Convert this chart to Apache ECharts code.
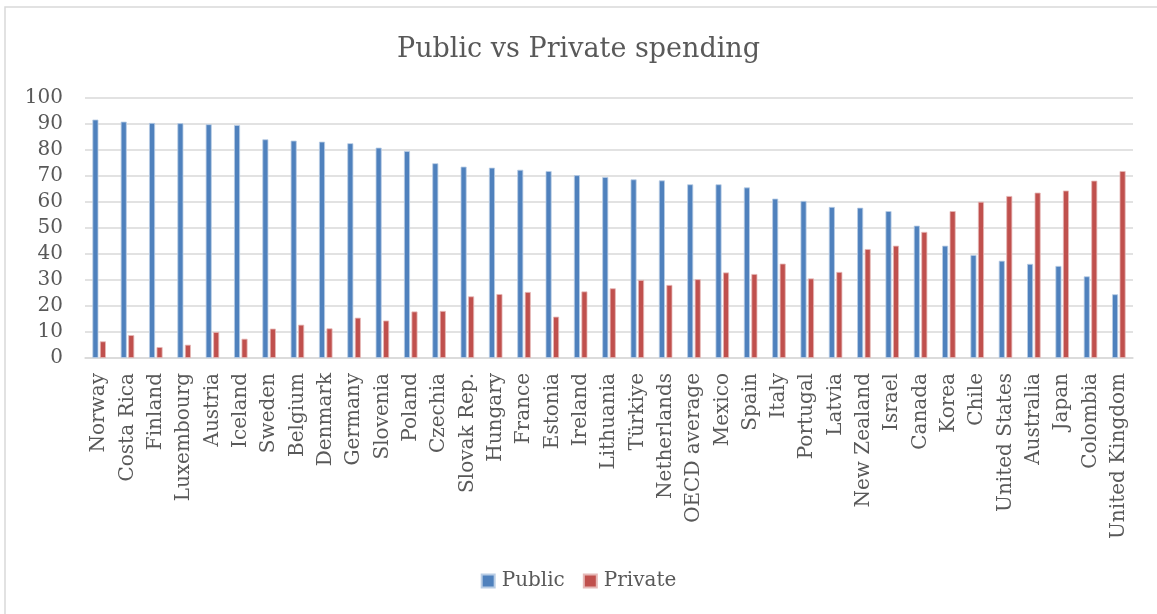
<!DOCTYPE html>
<html>
<head>
<meta charset="utf-8">
<script src="https://cdn.jsdelivr.net/npm/echarts@6/dist/echarts.min.js"></script>
<style>html,body{margin:0;padding:0;background:#fff;}#chart{width:1157px;height:614px;}</style>
</head>
<body>
<div id="chart"></div>
<script>
const categories = ["Norway","Costa Rica","Finland","Luxembourg","Austria","Iceland","Sweden","Belgium","Denmark","Germany","Slovenia","Poland","Czechia","Slovak Rep.","Hungary","France","Estonia","Ireland","Lithuania","Türkiye","Netherlands","OECD average","Mexico","Spain","Italy","Portugal","Latvia","New Zealand","Israel","Canada","Korea","Chile","United States","Australia","Japan","Colombia","United Kingdom"];
const publicValues = [91.7,90.9,90.4,90.3,89.9,89.6,84.1,83.6,83.2,82.6,80.9,79.6,74.9,73.6,73.2,72.4,71.9,70.3,69.6,68.7,68.3,66.8,66.8,65.6,61.3,60.4,58.1,57.8,56.5,50.9,43.2,39.6,37.4,36.2,35.4,31.4,24.5];
const privateValues = [6.4,8.8,4.2,5.1,10.0,7.4,11.3,12.8,11.4,15.5,14.4,17.9,18.1,23.7,24.6,25.4,15.9,25.6,26.8,30.0,28.1,30.3,32.9,32.3,36.3,30.6,33.1,41.9,43.2,48.5,56.5,60.1,62.3,63.6,64.4,68.2,71.9];
const seriesNames = ["Public","Private"];

const font = "DejaVu Serif";
const chart = echarts.init(document.getElementById('chart'), null, {renderer:'canvas'});
chart.setOption({
  backgroundColor:'#fff',
  animation:false,
  title:{text:'Public vs Private spending',left:'center',top:31,
    textStyle:{fontFamily:font,fontSize:27,fontWeight:'normal',color:'#595959'}},
  legend:{data:seriesNames,bottom:18,left:'center',itemWidth:13,itemHeight:13,itemGap:18,
    icon:'rect',textStyle:{fontFamily:font,fontSize:20,color:'#595959',padding:[0,0,0,2]}},
  graphic:[{type:'rect',shape:{x:5,y:7,width:1160,height:620},
    style:{fill:'none',stroke:'#d9d9d9',lineWidth:1.5},silent:true}],
  grid:{left:85,right:24,top:98,bottom:256,containLabel:false},
  xAxis:{type:'category',data:categories,
    axisLine:{lineStyle:{color:'#d9d9d9',width:1.5}},axisTick:{show:false},
    axisLabel:{rotate:90,interval:0,margin:15,fontFamily:font,fontSize:20,color:'#595959'}},
  yAxis:{type:'value',min:0,max:100,interval:10,
    axisLine:{show:false},axisTick:{show:false},
    splitLine:{lineStyle:{color:'#d9d9d9',width:1.5}},
    axisLabel:{margin:22,fontFamily:font,fontSize:20,color:'#595959'}},
  series:[
    {name:seriesNames[0],type:'bar',data:publicValues,barWidth:6,barGap:'25%',
      itemStyle:{color:'#4F81BD',borderColor:'#b9cde5',borderWidth:0.8}},
    {name:seriesNames[1],type:'bar',data:privateValues,barWidth:6,
      itemStyle:{color:'#C0504D',borderColor:'#e6b9b8',borderWidth:0.8}}
  ]
});
</script>
</body>
</html>
